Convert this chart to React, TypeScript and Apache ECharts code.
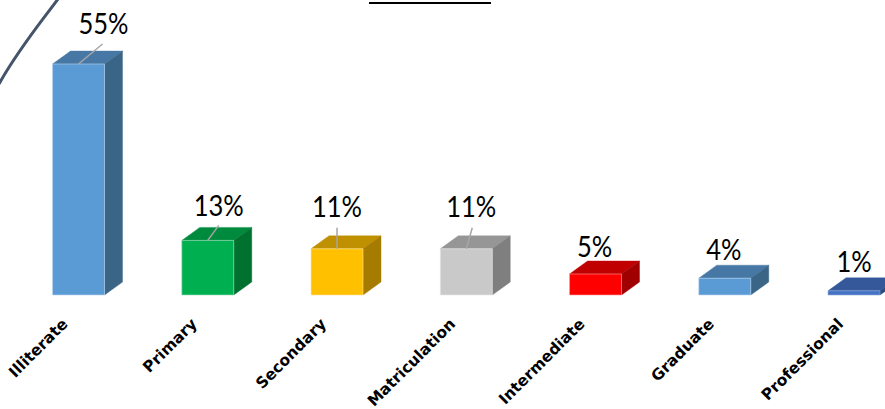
import React, { useEffect, useRef } from "react";
import * as echarts from "echarts";

const categories = ["Illiterate", "Primary", "Secondary", "Matriculation", "Intermediate", "Graduate", "Professional"];
const values = [55, 13, 11, 11, 5, 4, 1];
const frontColors = ["#5B9BD5", "#00B050", "#FFC000", "#C9C9C9", "#FF0000", "#5B9BD5", "#4472C4"];
const topColors = ["#4778A5", "#008A3E", "#BF9000", "#969696", "#C00000", "#4778A5", "#34589A"];
const sideColors = ["#3A6587", "#00712F", "#A67C00", "#7F7F7F", "#A00000", "#3A6587", "#2A4A80"];
const edgeColors = ["#BBD5EE", "#9FE0BC", "#FFE3A0", "#E8E8E8", "#FFA0A0", "#BBD5EE", "#8FAADC"];
const labelDx = [25, 11, 0, 5, -1, -1, 0];
const labelDy = [41, 36, 43, 43, 28, 29, 30];
const leaderEndDx = [24, 11, 0, 6];
const leaderEndDy = [20, 15, 21, 21];

const BAR_W = 52;
const DEPTH_X = 18;
const DEPTH_Y = 13;

function renderBar(params: any, api: any) {
  const i = params.dataIndex;
  const base = api.coord([api.value(0), 0]);
  const top = api.coord([api.value(0), api.value(1)]);
  const l = base[0] - BAR_W / 2;
  const r = base[0] + BAR_W / 2;
  const b = base[1];
  const t = top[1];
  const edge = { stroke: edgeColors[i], lineWidth: 0.6 };
  const children: any[] = [
    {
      type: "polygon",
      shape: { points: [[l, t], [l + DEPTH_X, t - DEPTH_Y], [r + DEPTH_X, t - DEPTH_Y], [r, t]] },
      style: { fill: topColors[i], stroke: topColors[i], lineWidth: 0.4 },
    },
    {
      type: "polygon",
      shape: { points: [[r, t], [r + DEPTH_X, t - DEPTH_Y], [r + DEPTH_X, b - DEPTH_Y], [r, b]] },
      style: { fill: sideColors[i], stroke: sideColors[i], lineWidth: 0.4 },
    },
    {
      type: "rect",
      shape: { x: l, y: t, width: BAR_W, height: b - t },
      style: { fill: frontColors[i], ...edge },
    },
  ];
  if (i < leaderEndDx.length) {
    children.push({
      type: "line",
      shape: { x1: base[0], y1: t, x2: base[0] + leaderEndDx[i], y2: t - leaderEndDy[i] },
      style: { stroke: "#A6A6A6", lineWidth: 1.5 },
    });
  }
  children.push({
    type: "text",
    x: base[0] + labelDx[i],
    y: t - labelDy[i],
    scaleX: 0.88,
    style: {
      text: values[i] + "%",
      fill: "#000000",
      font: "29px Lato",
      align: "center",
      verticalAlign: "middle",
    },
  });
  return { type: "group", children };
}

export default function App() {
  const ref = useRef<HTMLDivElement>(null);
  useEffect(() => {
    const chart = echarts.init(ref.current!, null, { renderer: "svg" });
    chart.setOption({
      animation: false,
      backgroundColor: "#FFFFFF",
      grid: { left: 13.9, right: 0.35, top: 43, bottom: 114, outerBoundsMode: "none" },
      xAxis: {
        type: "category",
        data: categories,
        axisLine: { show: false },
        axisTick: { show: false },
        axisLabel: {
          interval: 0,
          rotate: 45,
          margin: 13,
          padding: [0, 19, 0, 0],
          color: "#000000",
          fontFamily: "DejaVu Sans",
          fontWeight: "bold",
          fontSize: 15.5,
          hideOverlap: false,
        },
      },
      yAxis: { type: "value", min: 0, max: 60, show: false, splitLine: { show: false } },
      graphic: [
        {
          type: "line",
          shape: { x1: 369, y1: 3, x2: 491, y2: 3 },
          style: { stroke: "#000000", lineWidth: 2 },
        },
        {
          type: "bezierCurve",
          shape: { x1: 58, y1: -1, cpx1: 38, cpy1: 26, cpx2: 18, cpy2: 50, x2: -1, y2: 84 },
          style: { stroke: "#44546A", lineWidth: 3, fill: "none" },
        },
      ],
      series: [
        {
          type: "custom",
          renderItem: renderBar,
          encode: { x: 0, y: 1 },
          data: values.map((v, i) => [i, v]),
          clip: false,
        },
      ],
    });
    return () => chart.dispose();
  }, []);
  return (
    <div style={{ width: 885, height: 409, position: "absolute", left: 0, top: 0, overflow: "hidden" }}>
      <div ref={ref} style={{ width: 919, height: 409 }} />
    </div>
  );
}
